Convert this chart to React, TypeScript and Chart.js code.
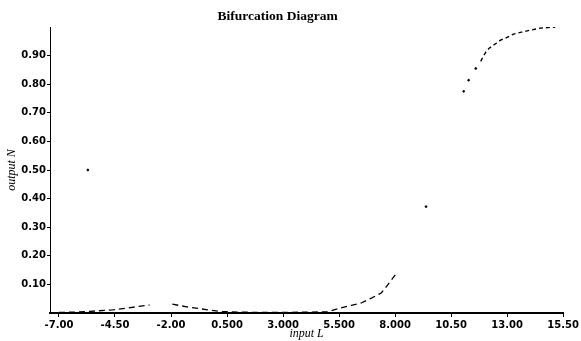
import React, { useEffect, useRef } from "react";
import { Chart, registerables } from "chart.js";

Chart.register(...registerables);

// Bottom-left branch (input L, output N)
const lowLeftL = [-7.0, -6.3, -5.6, -4.6, -4.0, -2.96];
const lowLeftN = [0.002, 0.003, 0.006, 0.011, 0.017, 0.028];
// Bottom-middle branch
const lowMidL = [-1.94, -1.2, -0.43, 0.28, 1.0, 2.0, 3.0, 4.0, 5.0, 5.47, 6.05, 6.49, 6.94, 7.38, 7.56, 7.78, 8.04];
const lowMidN = [0.031, 0.02, 0.012, 0.005, 0.003, 0.002, 0.002, 0.003, 0.004, 0.016, 0.027, 0.035, 0.052, 0.07, 0.087, 0.11, 0.137];
// Upper branch
const highL = [11.82, 11.95, 12.05, 12.2, 12.53, 12.7, 12.93, 13.28, 13.64, 14.04, 14.48, 15.15];
const highN = [0.88, 0.9, 0.912, 0.926, 0.944, 0.954, 0.961, 0.975, 0.982, 0.989, 0.996, 1.0];
// Isolated points
const isoL = [-5.71, 9.38, 11.06, 11.28, 11.6];
const isoN = [0.5, 0.372, 0.775, 0.814, 0.855];

const xTickValues = [-7, -4.5, -2, 0.5, 3, 5.5, 8, 10.5, 13, 15.5];
const xTickLabels = ["-7.00", "-4.50", "-2.00", "0.500", "3.000", "5.500", "8.000", "10.50", "13.00", "15.50"];
const yTickValues = [0.1, 0.2, 0.3, 0.4, 0.5, 0.6, 0.7, 0.8, 0.9];
const yTickLabels = ["0.10", "0.20", "0.30", "0.40", "0.50", "0.60", "0.70", "0.80", "0.90"];

const zip = (xs: number[], ys: number[]) => xs.map((x, i) => ({ x, y: ys[i] }));

const titlePlugin = {
  id: "customTitle",
  afterDraw(chart: any) {
    const { ctx, chartArea } = chart;
    ctx.save();
    ctx.font = "bold 13.5px 'Liberation Serif'";
    ctx.fillStyle = "#000";
    ctx.textAlign = "center";
    ctx.textBaseline = "middle";
    ctx.fillText("Bifurcation Diagram", (chartArea.left + chartArea.right) / 2 - 29, 17);
    ctx.restore();
  },
};

export default function App() {
  const ref = useRef<HTMLCanvasElement>(null);
  useEffect(() => {
    document.body.style.margin = "0";
    const canvas = ref.current!;
    const lineDs = (data: any[], dash: number[], w: number) => ({
      data,
      showLine: true,
      borderColor: "#000",
      backgroundColor: "#000",
      borderWidth: w,
      borderDash: dash,
      pointRadius: 0,
    });
    const chart = new Chart(canvas, {
      type: "scatter",
      data: {
        datasets: [
          lineDs(zip(lowLeftL, lowLeftN), [6, 4], 1.3),
          lineDs(zip(lowMidL, lowMidN), [6, 4], 1.3),
          lineDs(zip(highL, highN), [4, 3], 1.4),
          {
            data: zip(isoL, isoN),
            showLine: false,
            borderColor: "#000",
            backgroundColor: "#000",
            pointRadius: 0.9,
          },
        ],
      },
      plugins: [titlePlugin],
      options: {
        animation: false,
        responsive: false,
        layout: { padding: { top: 27, left: 0, right: 0, bottom: 0 } },
        plugins: { legend: { display: false }, tooltip: { enabled: false }, title: { display: false } },
        scales: {
          x: {
            type: "linear",
            min: -7.4,
            max: 15.5,
            afterBuildTicks: (scale: any) => {
              scale.ticks = xTickValues.map((v) => ({ value: v }));
            },
            afterFit: (scale: any) => {
              scale.height = 28;
            },
            ticks: {
              color: "#000",
              font: { family: "'DejaVu Sans'", size: 10, weight: "bold" },
              padding: 2,
              maxRotation: 0,
              autoSkip: false,
              callback: (v: any) => {
                const i = xTickValues.findIndex((t) => Math.abs(t - Number(v)) < 1e-6);
                return i >= 0 ? xTickLabels[i] : "";
              },
            },
            grid: { drawOnChartArea: false, drawTicks: true, tickLength: 4, color: "#000" },
            border: { color: "#000", width: 2 },
            title: {
              display: true,
              text: "input L",
              color: "#000",
              font: { family: "'Liberation Serif'", size: 12, style: "italic" },
              padding: { top: -3, bottom: 0 },
            },
          },
          y: {
            type: "linear",
            min: 0,
            max: 1.0,
            afterBuildTicks: (scale: any) => {
              scale.ticks = yTickValues.map((v) => ({ value: v }));
            },
            afterFit: (scale: any) => {
              scale.width = 50;
            },
            ticks: {
              color: "#000",
              font: { family: "'DejaVu Sans'", size: 10, weight: "bold" },
              padding: 1,
              callback: (v: any) => {
                const i = yTickValues.findIndex((t) => Math.abs(t - Number(v)) < 1e-6);
                return i >= 0 ? yTickLabels[i] : "";
              },
            },
            grid: { drawOnChartArea: false, drawTicks: true, tickLength: 3, color: "#000" },
            border: { color: "#000", width: 1, dash: [1, 2] },
            title: {
              display: true,
              text: "output N",
              color: "#000",
              font: { family: "'Liberation Serif'", size: 12, style: "italic" },
              padding: { top: 5, bottom: 0 },
            },
          },
        },
      },
    });
    return () => chart.destroy();
  }, []);
  return (
    <div style={{ width: 581, height: 341 }}>
      <canvas ref={ref} width={581} height={341} style={{ display: "block" }} />
    </div>
  );
}
